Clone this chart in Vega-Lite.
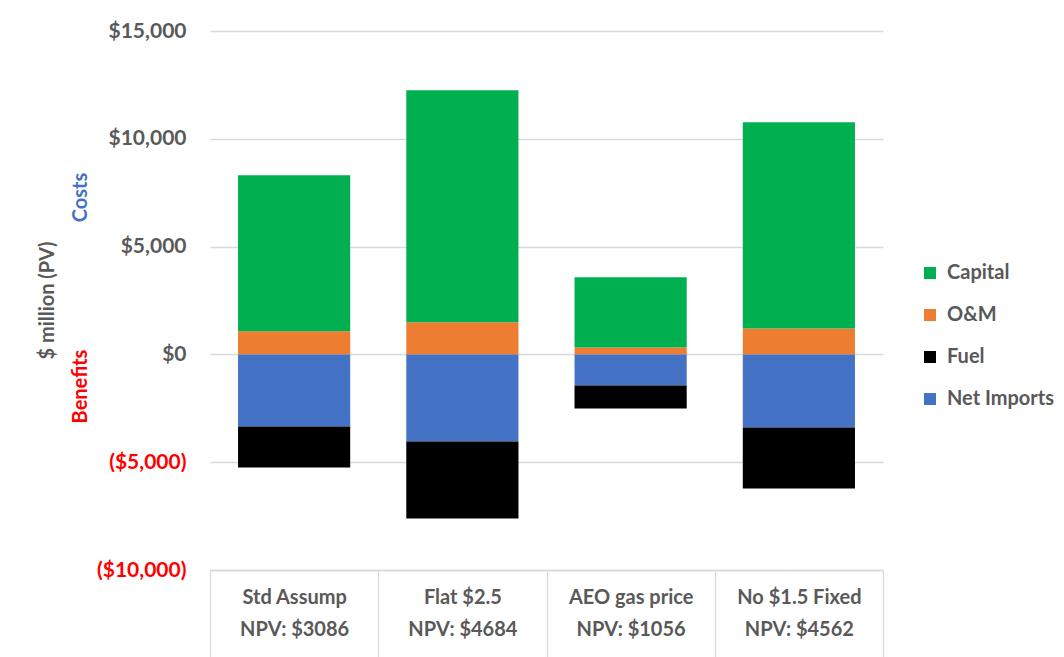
{
  "$schema": "https://vega.github.io/schema/vega-lite/v6.json",
  "autosize": {"type": "none"},
  "width": 673,
  "height": 539,
  "padding": {"left": 210, "top": 31, "right": 181, "bottom": 87},
  "background": "white",
  "config": {
    "view": {"stroke": null},
    "font": "Lato"
  },
  "datasets": {
    "costs": [
      {"scenario": "Std Assump|NPV: $3086", "component": "O&M", "value": 1068},
      {"scenario": "Std Assump|NPV: $3086", "component": "Capital", "value": 7242},
      {"scenario": "Flat $2.5|NPV: $4684", "component": "O&M", "value": 1486},
      {"scenario": "Flat $2.5|NPV: $4684", "component": "Capital", "value": 10770},
      {"scenario": "AEO gas price|NPV: $1056", "component": "O&M", "value": 325},
      {"scenario": "AEO gas price|NPV: $1056", "component": "Capital", "value": 3250},
      {"scenario": "No $1.5 Fixed|NPV: $4562", "component": "O&M", "value": 1207},
      {"scenario": "No $1.5 Fixed|NPV: $4562", "component": "Capital", "value": 9564}
    ],
    "benefits": [
      {"scenario": "Std Assump|NPV: $3086", "component": "Net Imports", "value": -3343},
      {"scenario": "Std Assump|NPV: $3086", "component": "Fuel", "value": -1903},
      {"scenario": "Flat $2.5|NPV: $4684", "component": "Net Imports", "value": -4039},
      {"scenario": "Flat $2.5|NPV: $4684", "component": "Fuel", "value": -3575},
      {"scenario": "AEO gas price|NPV: $1056", "component": "Net Imports", "value": -1439},
      {"scenario": "AEO gas price|NPV: $1056", "component": "Fuel", "value": -1068},
      {"scenario": "No $1.5 Fixed|NPV: $4562", "component": "Net Imports", "value": -3389},
      {"scenario": "No $1.5 Fixed|NPV: $4562", "component": "Fuel", "value": -2832}
    ]
  },
  "resolve": {"axis": {"y": "independent"}, "scale": {"y": "shared"}},
  "layer": [
    {
      "data": {"name": "costs"},
      "mark": {"type": "bar", "width": {"band": 0.6667}},
      "encoding": {
        "x": {
          "field": "scenario", "type": "nominal", "sort": null,
          "scale": {"paddingInner": 0, "paddingOuter": 0},
          "axis": {
            "title": null, "orient": "bottom",
            "labelExpr": "datum.value ? split(datum.value, '|') : ''",
            "labelAngle": 0, "labelFont": "Lato", "labelFontSize": 20, "labelFontWeight": "bold",
            "labelColor": "#595959", "labelLineHeight": 32, "labelBaseline": "top",
            "labelPadding": -70, "labelLimit": 0,
            "domain": true, "domainColor": "#d9d9d9", "domainWidth": 1.3,
            "ticks": true, "tickBand": "extent", "tickSize": 87, "tickColor": "#d9d9d9", "tickWidth": 1.3,
            "grid": false
          }
        },
        "y": {
          "field": "value", "type": "quantitative", "stack": "zero",
          "scale": {"domain": [-10000, 15000], "nice": false, "zero": false},
          "axis": {
            "orient": "left", "title": "Costs", "titleColor": "#4472C4",
            "titleFont": "Lato", "titleFontSize": 20, "titleFontWeight": "bold",
            "titleAngle": 270, "titleAlign": "center", "titleBaseline": "middle",
            "titleX": -130, "titleY": 166,
            "labels": false, "ticks": false, "domain": false, "grid": false
          }
        },
        "color": {
          "field": "component", "type": "nominal",
          "scale": {"domain": ["Capital", "O&M", "Fuel", "Net Imports"], "range": ["#00B050", "#ED7D31", "#000000", "#4472C4"]},
          "legend": {
            "title": null, "orient": "none", "legendX": 710, "legendY": 232,
            "symbolType": "square", "symbolSize": 144, "symbolStrokeWidth": 0,
            "labelFont": "Lato", "labelFontSize": 20, "labelFontWeight": "bold", "labelColor": "#595959",
            "labelOffset": 7, "rowPadding": 22, "padding": 0
          }
        },
        "order": {"field": "component", "sort": "descending"}
      }
    },
    {
      "data": {"name": "benefits"},
      "mark": {"type": "bar", "width": {"band": 0.6667}},
      "encoding": {
        "x": {
          "field": "scenario", "type": "nominal", "sort": null,
          "scale": {"paddingInner": 0, "paddingOuter": 0},
          "axis": {
            "title": null, "orient": "bottom",
            "labelExpr": "datum.value ? split(datum.value, '|') : ''",
            "labelAngle": 0, "labelFont": "Lato", "labelFontSize": 20, "labelFontWeight": "bold",
            "labelColor": "#595959", "labelLineHeight": 32, "labelBaseline": "top",
            "labelPadding": -70, "labelLimit": 0,
            "domain": true, "domainColor": "#d9d9d9", "domainWidth": 1.3,
            "ticks": true, "tickBand": "extent", "tickSize": 87, "tickColor": "#d9d9d9", "tickWidth": 1.3,
            "grid": false
          }
        },
        "y": {
          "field": "value", "type": "quantitative", "stack": "zero",
          "scale": {"domain": [-10000, 15000], "nice": false, "zero": false},
          "axis": {
            "orient": "left", "title": "Benefits", "titleColor": "#FF0000",
            "titleFont": "Lato", "titleFontSize": 20, "titleFontWeight": "bold",
            "titleAngle": 270, "titleAlign": "center", "titleBaseline": "middle",
            "titleX": -130, "titleY": 355,
            "labels": false, "ticks": false, "domain": false, "grid": false
          }
        },
        "color": {
          "field": "component", "type": "nominal",
          "scale": {"domain": ["Capital", "O&M", "Fuel", "Net Imports"], "range": ["#00B050", "#ED7D31", "#000000", "#4472C4"]},
          "legend": {
            "title": null, "orient": "none", "legendX": 710, "legendY": 232,
            "symbolType": "square", "symbolSize": 144, "symbolStrokeWidth": 0,
            "labelFont": "Lato", "labelFontSize": 20, "labelFontWeight": "bold", "labelColor": "#595959",
            "labelOffset": 7, "rowPadding": 22, "padding": 0
          }
        },
        "order": {"field": "component", "sort": "descending"}
      }
    },
    {
      "mark": {"type": "rule", "color": "#d9d9d9", "strokeWidth": 1.3},
      "encoding": {
        "y": {
          "datum": 0, "type": "quantitative",
          "scale": {"domain": [-10000, 15000], "nice": false, "zero": false},
          "axis": {
            "orient": "left", "title": "$ million (PV)", "titleColor": "#595959",
            "titleFont": "Lato", "titleFontSize": 20, "titleFontWeight": "bold",
            "titleAngle": 270, "titleAlign": "center", "titleBaseline": "middle",
            "titleX": -163, "titleY": 269,
            "values": [-10000, -5000, 0, 5000, 10000, 15000],
            "labelExpr": "datum.value < 0 ? '($' + format(-datum.value, ',') + ')' : '$' + format(datum.value, ',')",
            "labelColor": {"condition": {"test": "datum.value < 0", "value": "#FF0000"}, "value": "#595959"},
            "labelFont": "Lato", "labelFontSize": 21, "labelFontWeight": "bold",
            "labelPadding": 24, "labelAlign": "right", "labelBaseline": "middle",
            "ticks": false, "domain": false,
            "grid": true, "gridColor": "#d9d9d9", "gridWidth": 1.3
          }
        }
      }
    }
  ]
}
